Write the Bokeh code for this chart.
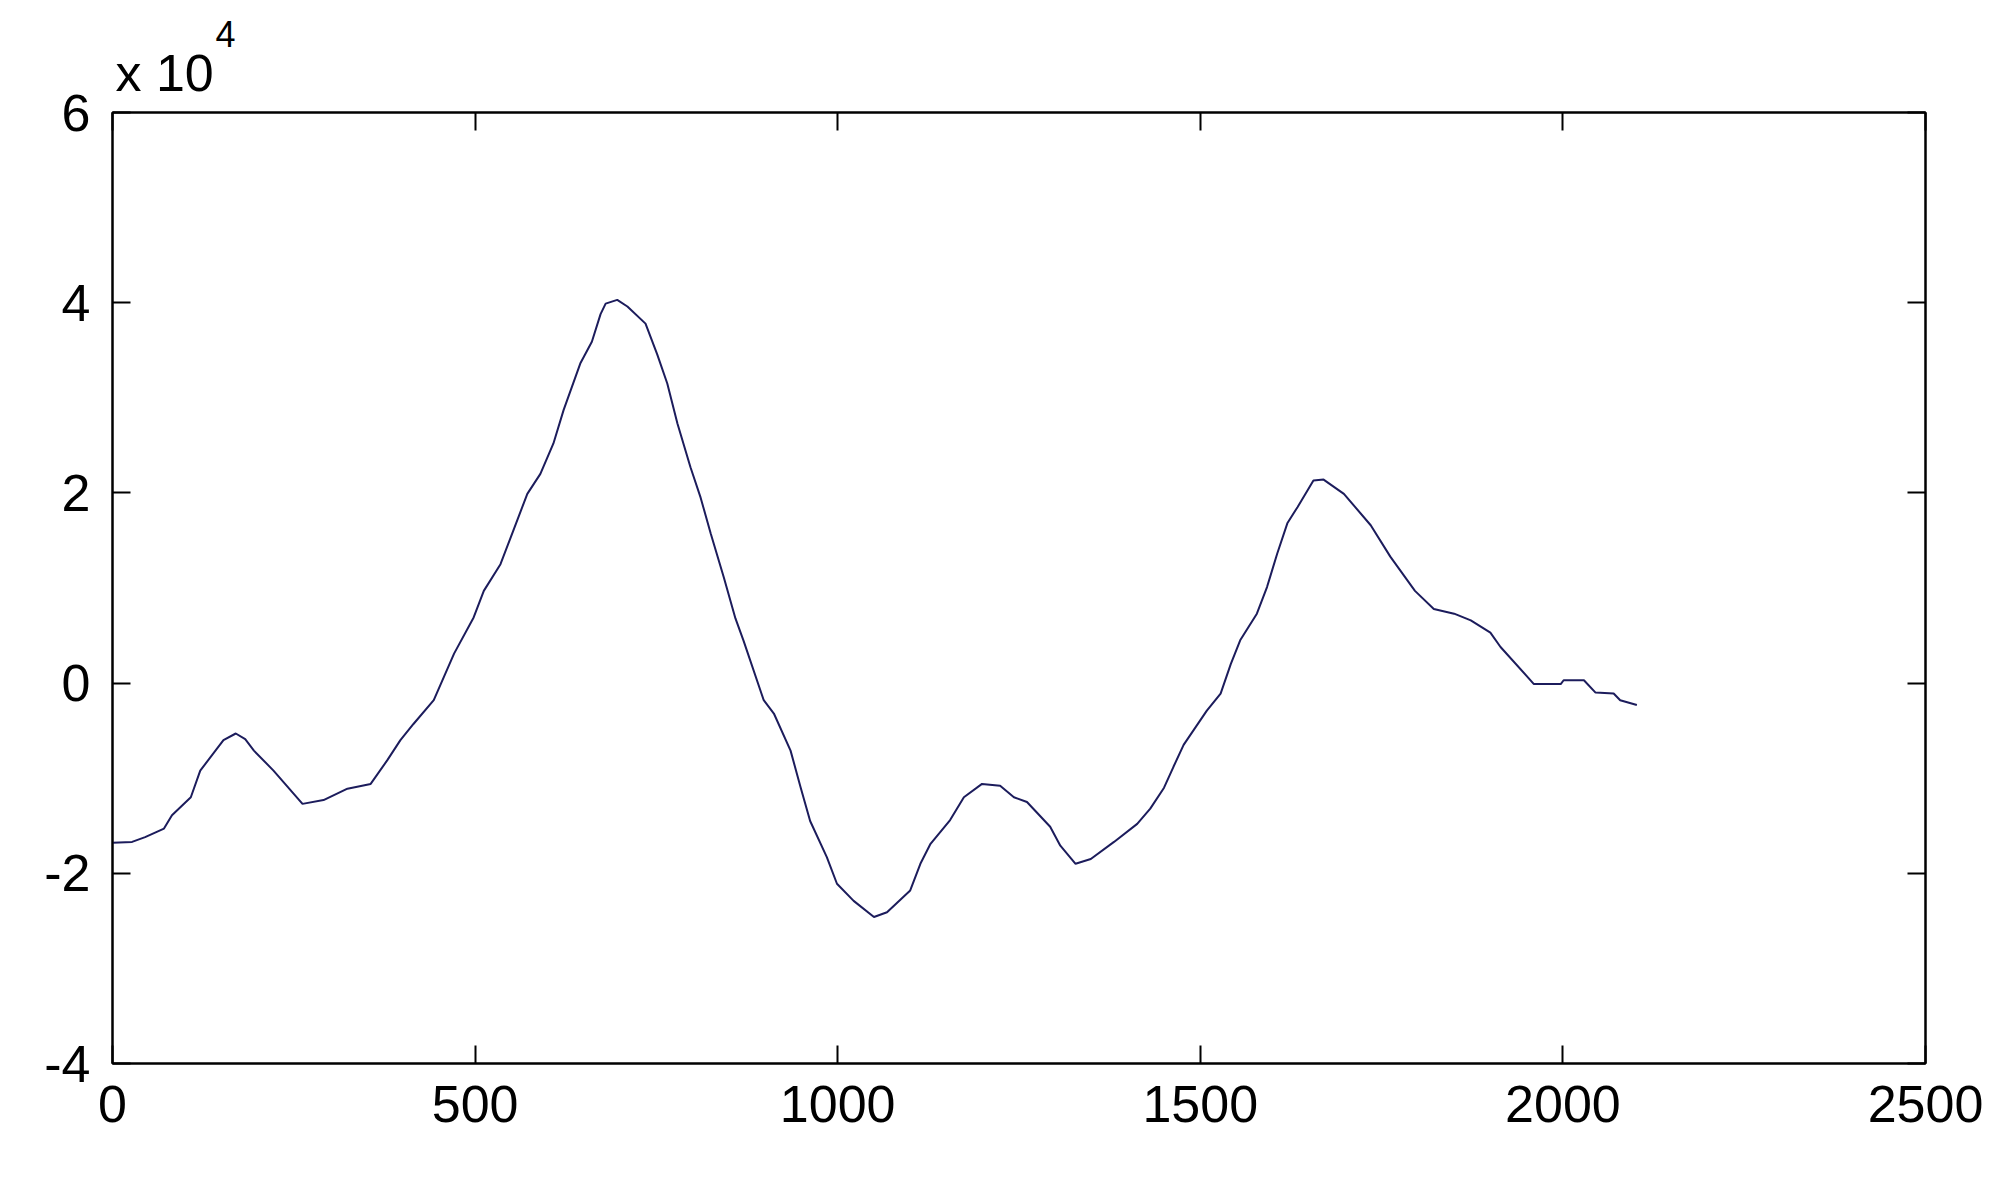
from bokeh.plotting import figure
from bokeh.models import LinearAxis, Range1d, FixedTicker, Title, ColumnDataSource
from bokeh.embed import file_html
from bokeh.resources import INLINE

# ---- data ----
x_values = [0, 27, 45, 71, 82, 108, 121, 153, 170, 183, 195, 222, 262, 291, 324, 356,
            379, 397, 415, 443, 471, 498, 512, 535, 549, 572, 590, 608, 622, 645, 661,
            673, 680, 696, 710, 735, 751, 765, 779, 797, 811, 825, 843, 859, 870, 898,
            912, 935, 949, 962, 985, 999, 1022, 1050, 1068, 1100, 1114, 1128, 1155,
            1174, 1199, 1224, 1243, 1261, 1293, 1307, 1328, 1349, 1381, 1413, 1431,
            1450, 1463, 1477, 1509, 1528, 1542, 1555, 1578, 1592, 1606, 1620, 1634,
            1656, 1670, 1698, 1735, 1762, 1796, 1822, 1850, 1873, 1900, 1914, 1960,
            1997, 2001, 2029, 2045, 2070, 2079, 2102]
y_values = [-16800, -16700, -16200, -15300, -13900, -12000, -9200, -6000, -5300, -5900,
            -7100, -9200, -12700, -12300, -11100, -10600, -8100, -6000, -4300, -1800,
            3100, 6900, 9700, 12500, 15300, 19900, 22000, 25200, 28700, 33600, 35900,
            38800, 39900, 40300, 39600, 37800, 34600, 31500, 27300, 22700, 19500, 15700,
            11100, 6800, 4500, -1800, -3200, -7100, -11000, -14500, -18300, -21100,
            -22900, -24600, -24100, -21800, -19000, -16900, -14400, -12000, -10600,
            -10800, -12000, -12500, -15100, -17100, -19000, -18500, -16700, -14800,
            -13200, -11000, -8800, -6500, -2900, -1100, 2000, 4500, 7300, 10100, 13600,
            16800, 18500, 21300, 21400, 19900, 16600, 13300, 9700, 7800, 7300, 6600,
            5300, 3800, -100, -100, 300, 300, -1000, -1100, -1800, -2300]

x_ticks = [0, 500, 1000, 1500, 2000, 2500]
x_tick_labels = ["0", "500", "1000", "1500", "2000", "2500"]
y_ticks = [-40000, -20000, 0, 20000, 40000, 60000]
y_tick_labels = ["-4", "-2", "0", "2", "4", "6"]
exponent_base = "x 10"
exponent_power = "4"

FONT = "Liberation Sans"
FS = "52px"

p = figure(width=1987, height=1164, output_backend="svg", toolbar_location=None,
           x_range=Range1d(0, 2500), y_range=Range1d(-40000, 60000),
           min_border_left=112, min_border_right=62, min_border_top=112,
           min_border_bottom=101, background_fill_color="white",
           border_fill_color="white")
p.xaxis.visible = False
p.yaxis.visible = False
p.grid.visible = False
p.outline_line_color = "black"
p.outline_line_width = 2

src = ColumnDataSource(dict(x=x_values, y=y_values))
p.line("x", "y", source=src, line_color="#1c1c5c", line_width=2)


def style(ax, ticks, labels, show):
    ax.ticker = FixedTicker(ticks=ticks)
    ax.major_label_overrides = {t: (l if show else "") for t, l in zip(ticks, labels)}
    ax.major_tick_in = 18
    ax.major_tick_out = 0
    ax.minor_tick_in = 0
    ax.minor_tick_out = 0
    ax.major_tick_line_color = "black"
    ax.major_tick_line_width = 2
    ax.axis_line_color = "black"
    ax.axis_line_width = 2
    ax.major_label_text_font = FONT
    ax.major_label_text_font_size = FS if show else "0px"
    ax.major_label_text_color = "black"
    ax.major_label_standoff = 22 if show else 0


bottom = LinearAxis()
style(bottom, x_ticks, x_tick_labels, True)
p.add_layout(bottom, "below")
left = LinearAxis()
style(left, y_ticks, y_tick_labels, True)
p.add_layout(left, "left")
top = LinearAxis()
style(top, x_ticks, x_tick_labels, False)
p.add_layout(top, "above")
right = LinearAxis()
style(right, y_ticks, y_tick_labels, False)
p.add_layout(right, "right")

# "x 10^4" multiplier above the top-left corner
p.add_layout(Title(text=exponent_base, align="left", offset=3, standoff=22,
                   text_font=FONT, text_font_size=FS, text_font_style="normal",
                   text_color="black"), "above")
p.title.text = exponent_power
p.title.align = "left"
p.title.offset = 103
p.title.standoff = -32
p.title.text_font = FONT
p.title.text_font_size = "36px"
p.title.text_font_style = "normal"
p.title.text_color = "black"

open("out.html", "w").write(file_html(p, INLINE))
